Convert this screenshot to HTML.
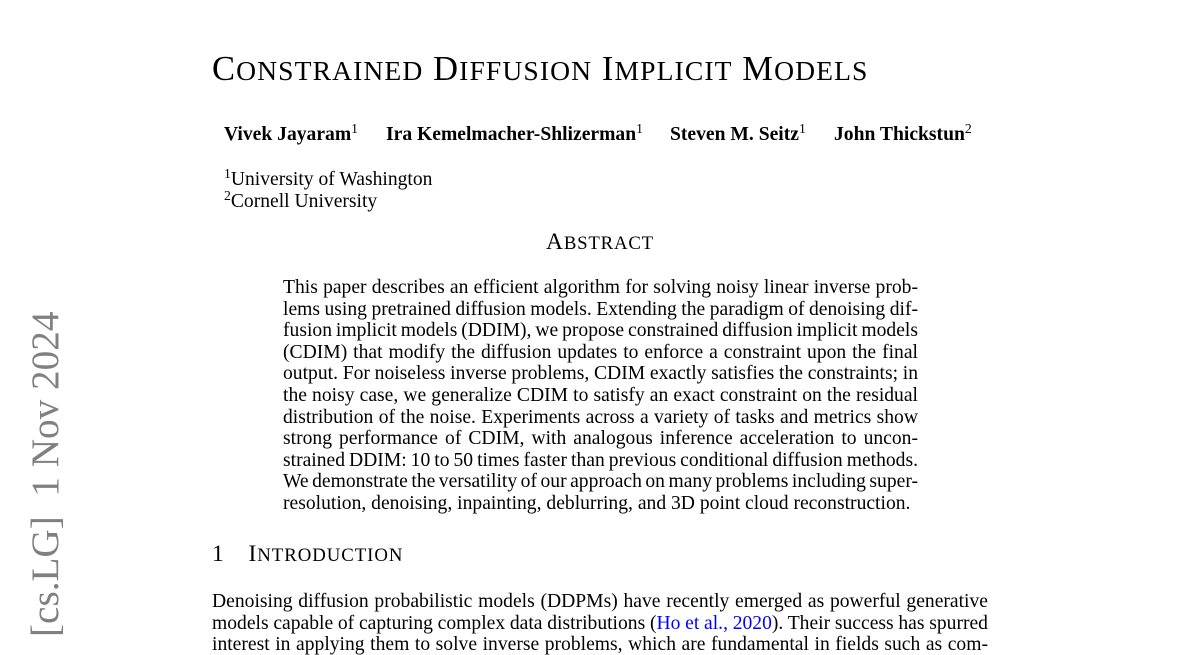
<!DOCTYPE html>
<html>
<head>
<meta charset="utf-8">
<style>
html,body{margin:0;padding:0;background:#fff;}
body{width:1200px;height:648px;overflow:hidden;position:relative;font-family:"Liberation Serif","Times New Roman",serif;color:#000;}
.a{position:absolute;white-space:nowrap;line-height:1;}
.j{position:absolute;line-height:1;text-align:justify;text-align-last:justify;word-spacing:-3px;font-size:19.6px;white-space:normal;}
.l{position:absolute;line-height:1;font-size:19.6px;white-space:nowrap;}
.sc{font-size:0.8em;}
.sup{font-size:13.7px;font-weight:normal;position:relative;top:-7px;}
.ab{left:283px;width:635px;}
.in{left:212px;width:776px;}
.cite{color:#0000ff;}
</style>
</head>
<body>

<!-- arXiv stamp -->
<div class="a" style="left:26px;top:636.5px;font-size:39.2px;color:#808080;transform:rotate(-90deg);transform-origin:0 0;white-space:pre">[cs.LG]  1 Nov 2024</div>

<!-- Title -->
<div class="a" style="left:212px;top:51.5px;font-size:34.5px;letter-spacing:1.1px">C<span class="sc">ONSTRAINED</span> D<span class="sc">IFFUSION</span> I<span class="sc">MPLICIT</span> M<span class="sc">ODELS</span></div>

<!-- Authors -->
<div class="a" style="left:224px;top:124.5px;font-size:19.6px;font-weight:bold">Vivek Jayaram<span class="sup">1</span></div>
<div class="a" style="left:386px;top:124.5px;font-size:19.6px;font-weight:bold">Ira Kemelmacher-Shlizerman<span class="sup">1</span></div>
<div class="a" style="left:670px;top:124.5px;font-size:19.6px;font-weight:bold">Steven M. Seitz<span class="sup">1</span></div>
<div class="a" style="left:834px;top:124.5px;font-size:19.6px;font-weight:bold">John Thickstun<span class="sup">2</span></div>

<!-- Affiliations -->
<div class="a" style="left:224px;top:170.1px;font-size:19.6px"><span class="sup">1</span>University of Washington</div>
<div class="a" style="left:224px;top:191.6px;font-size:19.6px"><span class="sup">2</span>Cornell University</div>

<!-- Abstract heading -->
<div class="a" style="left:212px;width:776px;text-align:center;top:231.3px;font-size:23.5px;letter-spacing:0.8px">A<span class="sc">BSTRACT</span></div>

<!-- Abstract lines -->
<div class="j ab" style="top:278.1px">This paper describes an efficient algorithm for solving noisy linear inverse prob-</div>
<div class="j ab" style="top:299.7px">lems using pretrained diffusion models. Extending the paradigm of denoising dif-</div>
<div class="j ab" style="top:321.2px">fusion implicit models (DDIM), we propose constrained diffusion implicit models</div>
<div class="j ab" style="top:342.8px">(CDIM) that modify the diffusion updates to enforce a constraint upon the final</div>
<div class="j ab" style="top:364.3px">output. For noiseless inverse problems, CDIM exactly satisfies the constraints; in</div>
<div class="j ab" style="top:385.9px">the noisy case, we generalize CDIM to satisfy an exact constraint on the residual</div>
<div class="j ab" style="top:407.5px">distribution of the noise. Experiments across a variety of tasks and metrics show</div>
<div class="j ab" style="top:429.0px">strong performance of CDIM, with analogous inference acceleration to uncon-</div>
<div class="j ab" style="top:450.6px">strained DDIM: 10 to 50 times faster than previous conditional diffusion methods.</div>
<div class="j ab" style="top:472.1px">We demonstrate the versatility of our approach on many problems including super-</div>
<div class="l" style="left:283px;top:493.7px">resolution, denoising, inpainting, deblurring, and 3D point cloud reconstruction.</div>

<!-- Section heading -->
<div class="a" style="left:212px;top:543.3px;font-size:23.5px">1</div>
<div class="a" style="left:248.5px;top:543.3px;font-size:23.5px;letter-spacing:0.95px">I<span class="sc">NTRODUCTION</span></div>

<!-- Intro paragraph -->
<div class="j in" style="top:592.1px">Denoising diffusion probabilistic models (DDPMs) have recently emerged as powerful generative</div>
<div class="j in" style="top:613.6px">models capable of capturing complex data distributions (<span class="cite">Ho et al., 2020</span>). Their success has spurred</div>
<div class="j in" style="top:635.2px">interest in applying them to solve inverse problems, which are fundamental in fields such as com-</div>

</body>
</html>
